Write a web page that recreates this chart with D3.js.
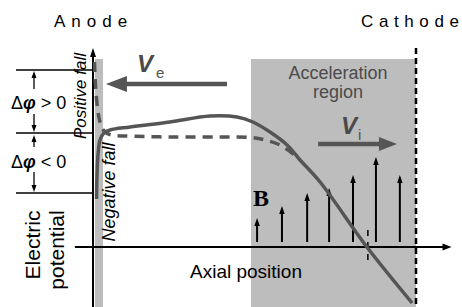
<!DOCTYPE html>
<html><head><meta charset="utf-8">
<script src="https://cdn.jsdelivr.net/npm/d3@7"></script>
<style>body{margin:0;background:#fff} svg{display:block}</style>
</head><body>
<script>
// ---- data (schematic units: axial position 0 = anode, 100 = cathode; potential 0 = axis) ----
const solidX = [1.1, 1.24, 1.55, 2.17, 3.4, 5.3, 11.5, 23.8, 36.2, 44.6, 49.5, 54.8, 60.1, 64.1, 70.3, 84.8, 98.8];
const solidY = [24, 36, 46, 53.5, 57, 58.5, 60, 62.5, 65.5, 65, 62.5, 57.5, 51, 43.5, 32.5, 0, -28];
const dashX = [0.46, 0.77, 1.39, 2.17, 3.41, 5.57, 9.9, 23.8, 42.4, 49.2, 53.3, 57.9, 62.8];
const dashY = [92.5, 81, 69.5, 62.5, 58, 56, 55.5, 55, 55, 54.75, 53.5, 51, 45.5];
const fieldX = [50.8, 58.5, 66.3, 73.1, 80.5, 87.6, 95.0];
const fieldB = [14.5, 20.5, 27, 29.5, 36, 45, 36];
const levels = [88.5, 57, 27];
const anodeFall = [0.6, 3.1];
const accelRegion = [48.9, 100];
const regionTop = 94;
const zeroCross = 85.1;
const veArrow = [41.5, 4.0, 81.5];
const viArrow = [69.7, 94.1, 51.5];

const W = 462, H = 307;
const x = d3.scaleLinear().domain([0, 100]).range([93, 416]);
const y = d3.scaleLinear().domain([-30, 100]).range([307, 47]);
const gray = "#bdbdbd", ink = "#555";
const svg = d3.select("body").append("svg").attr("width", W).attr("height", H);
const SANS = "'Liberation Sans', Arial, sans-serif";

function arrow(g, x1, y1, x2, y2, sw, hl, hw, color) {
  const dx = x2 - x1, dy = y2 - y1, L = Math.hypot(dx, dy), ux = dx / L, uy = dy / L;
  const bx = x2 - ux * hl, by = y2 - uy * hl;
  g.append("line").attr("x1", x1).attr("y1", y1).attr("x2", bx + ux).attr("y2", by + uy)
    .attr("stroke", color).attr("stroke-width", sw);
  g.append("path").attr("d", `M${x2},${y2}L${bx - uy * hw / 2},${by + ux * hw / 2}L${bx + uy * hw / 2},${by - ux * hw / 2}Z`)
    .attr("fill", color);
}

// regions
svg.append("rect").attr("x", x(anodeFall[0])).attr("y", y(regionTop))
  .attr("width", x(anodeFall[1]) - x(anodeFall[0])).attr("height", H - y(regionTop)).attr("fill", gray);
svg.append("rect").attr("x", x(accelRegion[0])).attr("y", y(regionTop))
  .attr("width", x(accelRegion[1]) - x(accelRegion[0])).attr("height", H - y(regionTop)).attr("fill", gray);

// level lines
svg.selectAll("line.lvl").data(levels).enter().append("line").attr("class", "lvl")
  .attr("x1", 16).attr("x2", x(0)).attr("y1", d => y(d)).attr("y2", d => y(d))
  .attr("stroke", "#000").attr("stroke-width", 1.3);

// delta phi arrows
const g = svg.append("g");
arrow(g, 34, 89, 34, y(levels[0]) + 1, 1.3, 7, 5, "#000");
arrow(g, 34, 114, 34, y(levels[1]) - 1, 1.3, 7, 5, "#000");
arrow(g, 34, 147, 34, y(levels[1]) + 2, 1.3, 7, 5, "#000");
arrow(g, 34, 172, 34, y(levels[2]) - 1, 1.3, 7, 5, "#000");

// cathode line
svg.append("line").attr("x1", x(100)).attr("x2", x(100)).attr("y1", 48).attr("y2", H)
  .attr("stroke", "#000").attr("stroke-width", 2.5).attr("stroke-dasharray", "6,4");

// axes
arrow(g, x(0), H, x(0), y(99.5), 2, 9, 6, "#000");
arrow(g, x(-5.6), y(0), x(111), y(0), 2, 9, 7, "#000");

// B field arrows
fieldX.forEach((fx, i) => arrow(g, x(fx), y(2.5), x(fx), y(fieldB[i]), 2, 8, 5.5, "#000"));

// zero crossing tick
svg.append("line").attr("x1", x(zeroCross)).attr("x2", x(zeroCross)).attr("y1", y(8.5)).attr("y2", y(-7.5))
  .attr("stroke", "#000").attr("stroke-width", 1.5).attr("stroke-dasharray", "6,6");

// curves
const line = d3.line().x(d => x(d[0])).y(d => y(d[1])).curve(d3.curveCatmullRom.alpha(0.5));
svg.append("path").attr("d", line(dashX.map((v, i) => [v, dashY[i]])))
  .attr("fill", "none").attr("stroke", ink).attr("stroke-width", 3.5).attr("stroke-dasharray", "10,7");
svg.append("path").attr("d", line(solidX.map((v, i) => [v, solidY[i]])))
  .attr("fill", "none").attr("stroke", ink).attr("stroke-width", 3.5);

// velocity arrows
arrow(g, x(veArrow[0]), y(veArrow[2]), x(veArrow[1]), y(veArrow[2]), 4.5, 21, 16, ink);
arrow(g, x(viArrow[0]), y(viArrow[2]), x(viArrow[1]), y(viArrow[2]), 4.5, 18, 14, ink);

// texts
function txt(xx, yy, s, size, opts = {}) {
  const t = svg.append("text").attr("x", xx).attr("y", yy).text(s)
    .attr("font-family", opts.family || SANS).attr("font-size", size)
    .attr("fill", opts.fill || "#000");
  if (opts.anchor) t.attr("text-anchor", opts.anchor);
  if (opts.weight) t.attr("font-weight", opts.weight);
  if (opts.style) t.attr("font-style", opts.style);
  if (opts.rot) t.attr("transform", `rotate(-90,${xx},${yy})`);
  return t;
}
function spaced(xx, yy, s, size, gap) {
  const t = svg.append("text").attr("x", xx).attr("y", yy)
    .attr("font-family", SANS).attr("font-size", size).attr("fill", "#000");
  s.split("").forEach((c, i) => t.append("tspan").attr("dx", i ? gap : 0).text(c));
}
spaced(54, 27, "Anode", 17, 6);
spaced(361, 27, "Cathode", 17, 5.6);

function dphi(yy, sym) {
  const t = svg.append("text").attr("x", 11).attr("y", yy).attr("font-family", SANS).attr("font-size", 18);
  t.append("tspan").text("Δ");
  t.append("tspan").text("φ").attr("font-weight", "bold").attr("font-style", "italic");
  t.append("tspan").text(" " + sym + " 0");
}
dphi(109, ">");
dphi(168, "<");

txt(40, 245, "Electric", 21, { anchor: "middle", rot: true });
txt(64, 250, "potential", 21, { anchor: "middle", rot: true });
txt(86, 96, "Positive fall", 17, { anchor: "middle", rot: true, style: "italic" });
txt(115, 192, "Negative fall", 18, { anchor: "middle", rot: true, style: "italic" });
txt(246, 278, "Axial position", 19, { anchor: "middle" });
txt(338, 79, "Acceleration", 18, { anchor: "middle", fill: "#4a4a4a" });
txt(338, 98, "region", 18, { anchor: "middle", fill: "#4a4a4a" });
txt(137, 72, "V", 24, { weight: "bold", style: "italic", fill: "#4a4a4a" });
txt(156, 78, "e", 15, { fill: ink });
txt(341, 134, "V", 24, { weight: "bold", style: "italic", fill: "#4a4a4a" });
txt(358, 140, "i", 15, { fill: ink });
txt(261, 206, "B", 24, { anchor: "middle", weight: "bold", family: "'Liberation Serif', 'Times New Roman', serif" });
</script>
</body></html>
